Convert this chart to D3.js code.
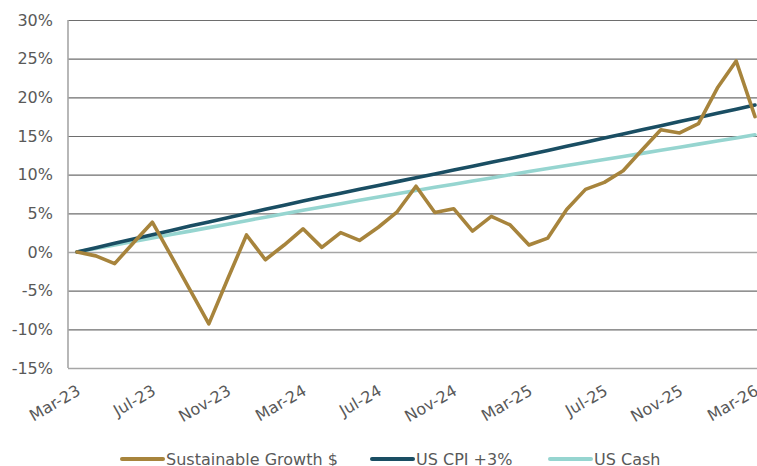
<!DOCTYPE html>
<html>
<head>
<meta charset="utf-8">
<script src="https://cdn.jsdelivr.net/npm/d3@7"></script>
<style>
  html, body { margin: 0; padding: 0; background: #fff; }
  svg { display: block; font-family: "DejaVu Sans", Verdana, sans-serif; }
</style>
</head>
<body>
<svg id="chart" width="757" height="466"></svg>
<script>
// ---- Data ----
const months = [
  "Mar-23","Apr-23","May-23","Jun-23","Jul-23","Aug-23","Sep-23","Oct-23","Nov-23","Dec-23",
  "Jan-24","Feb-24","Mar-24","Apr-24","May-24","Jun-24","Jul-24","Aug-24","Sep-24","Oct-24","Nov-24","Dec-24",
  "Jan-25","Feb-25","Mar-25","Apr-25","May-25","Jun-25","Jul-25","Aug-25","Sep-25","Oct-25","Nov-25","Dec-25",
  "Jan-26","Feb-26","Mar-26"
];
const sustainableGrowth = [
  0, -0.5, -1.5, 1.2, 3.85, -0.5, -4.9, -9.3, -3.5, 2.2,
  -1.0, 0.9, 3.0, 0.6, 2.5, 1.5, 3.2, 5.2, 8.5, 5.1, 5.6, 2.7,
  4.6, 3.5, 0.9, 1.8, 5.5, 8.1, 9.0, 10.5, 13.2, 15.8, 15.4, 16.6,
  21.2, 24.7, 17.5
];
const usCpiPlus3 = [
  0, 0.56, 1.12, 1.67, 2.23, 2.79, 3.35, 3.89, 4.43, 4.98,
  5.52, 6.06, 6.60, 7.10, 7.60, 8.10, 8.60, 9.10, 9.60, 10.10, 10.60, 11.10,
  11.60, 12.10, 12.60, 13.13, 13.67, 14.20, 14.73, 15.27, 15.80, 16.33, 16.87, 17.40,
  17.93, 18.47, 19.00
];
const usCash = [
  0, 0.45, 0.90, 1.35, 1.80, 2.25, 2.70, 3.15, 3.60, 4.05,
  4.50, 4.95, 5.40, 5.83, 6.25, 6.68, 7.10, 7.53, 7.95, 8.36, 8.77, 9.18,
  9.58, 9.99, 10.40, 10.79, 11.18, 11.58, 11.97, 12.36, 12.75, 13.15, 13.55, 13.95,
  14.35, 14.75, 15.15
];
const xTickLabels = ["Mar-23","Jul-23","Nov-23","Mar-24","Jul-24","Nov-24","Mar-25","Jul-25","Nov-25","Mar-26"];
const yTicks = [-15, -10, -5, 0, 5, 10, 15, 20, 25, 30];
const seriesNames = ["Sustainable Growth $", "US CPI +3%", "US Cash"];
const seriesColors = ["#A7843C", "#1A4E63", "#96D5D0"];

// ---- Layout ----
const svg = d3.select("#chart");
const plotLeft = 68, plotRight = 757, plotTop = 20, plotBottom = 368;

const x = d3.scalePoint().domain(months).range([77, 755]);
const y = d3.scaleLinear().domain([-15, 30]).range([plotBottom, plotTop]);

const textColor = "#595959";

// Gridlines
const yAxis = d3.axisLeft(y).tickValues(yTicks).tickSize(-(plotRight - plotLeft)).tickFormat(d => d + "%").tickPadding(15);
const gy = svg.append("g").attr("transform", `translate(${plotLeft},0)`).call(yAxis);
gy.select(".domain").remove();
gy.selectAll(".tick line")
  .attr("stroke", d => (d === 0 || d === -15) ? "#a6a6a6" : "#6e6e6e")
  .attr("stroke-width", d => (d === 0 || d === -15) ? 1.6 : 1.2);
gy.selectAll(".tick text")
  .attr("fill", textColor)
  .style("font-size", "16px")
  .style("font-family", "'DejaVu Sans', Verdana, sans-serif");

// Left axis line
svg.append("line")
  .attr("x1", plotLeft).attr("x2", plotLeft)
  .attr("y1", plotTop).attr("y2", plotBottom)
  .attr("stroke", "#a6a6a6").attr("stroke-width", 1.6);

// X axis labels
const xAxis = d3.axisBottom(x).tickValues(xTickLabels).tickSize(0).tickPadding(0);
const gx = svg.append("g").attr("transform", `translate(0,${plotBottom})`).call(xAxis);
gx.select(".domain").remove();
gx.selectAll(".tick text")
  .attr("fill", textColor)
  .style("font-size", "16px")
  .style("font-family", "'DejaVu Sans', Verdana, sans-serif")
  .attr("text-anchor", "end")
  .attr("dy", null)
  .attr("y", null)
  .attr("transform", "translate(4,26) rotate(-30)");

// Lines
const allSeries = [sustainableGrowth, usCpiPlus3, usCash];
const line = d3.line().x((d, i) => x(months[i])).y(d => y(d));
// draw order: cash, cpi, growth on top
[2, 1, 0].forEach(si => {
  svg.append("path")
    .datum(allSeries[si])
    .attr("d", line)
    .attr("fill", "none")
    .attr("stroke", seriesColors[si])
    .attr("stroke-width", 3.6)
    .attr("stroke-linejoin", "round")
    .attr("stroke-linecap", "round");
});

// Legend
const legendItems = [
  { x1: 122, x2: 163, tx: 166 },
  { x1: 372, x2: 413, tx: 416 },
  { x1: 550, x2: 591, tx: 594 }
];
const ly = 459;
legendItems.forEach((it, i) => {
  svg.append("line")
    .attr("x1", it.x1).attr("x2", it.x2).attr("y1", ly).attr("y2", ly)
    .attr("stroke", seriesColors[i]).attr("stroke-width", 4)
    .attr("stroke-linecap", "round");
  svg.append("text")
    .attr("x", it.tx).attr("y", ly + 6)
    .attr("fill", textColor)
    .style("font-size", "16px")
    .text(seriesNames[i]);
});
</script>
</body>
</html>
